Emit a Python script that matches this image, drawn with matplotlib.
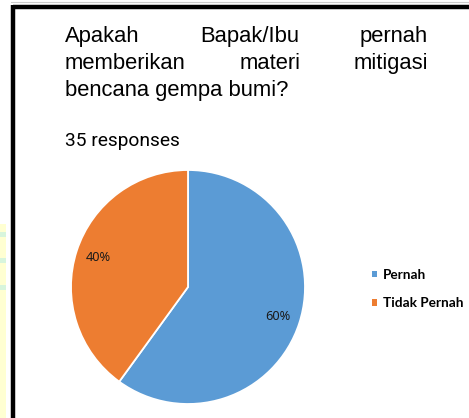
import matplotlib.pyplot as plt
from matplotlib.patches import Patch, Rectangle
from matplotlib.lines import Line2D

# Data
labels = ["Pernah", "Tidak Pernah"]
shares = [60, 40]
colors = ["#5B9BD5", "#ED7D31"]
title_lines = [
    ["Apakah", "Bapak/Ibu", "pernah"],
    ["memberikan", "materi", "mitigasi"],
    ["bencana gempa bumi?"],
]
subtitle = "35 responses"

W, H = 469, 418


def main():
    fig = plt.figure(figsize=(W / 100, H / 100), dpi=100)
    fig.patch.set_facecolor("white")

    # overlay axes in pixel coordinates for the frame and title
    bg = fig.add_axes([0, 0, 1, 1])
    bg.set_xlim(0, W)
    bg.set_ylim(H, 0)
    bg.axis("off")

    # left strip of the slide behind the card
    bg.add_patch(Rectangle((0, 224), 6, H - 224, color="#FFFFD2", lw=0))
    for yy in (232, 258, 285):
        bg.add_patch(Rectangle((0, yy), 6, 5, color="#D8F5DC", lw=0))

    # card border (black top/left, grey line above)
    bg.add_line(Line2D([11, W], [2, 2], color="#CCCCCC", lw=0.8))
    bg.add_line(Line2D([13, W], [6.5, 6.5], color="black", lw=3.2,
                       solid_capstyle="butt"))
    bg.add_line(Line2D([13, 13], [5, H], color="black", lw=3.2,
                       solid_capstyle="butt"))

    # justified title text
    tfont = dict(family="Liberation Sans", fontsize=15.8, color="black")
    baselines = [42, 69, 96]
    left_x, right_x = 65, 428
    renderer = fig.canvas.get_renderer()
    for words, yb in zip(title_lines, baselines):
        if len(words) == 1:
            bg.text(left_x, yb, words[0], ha="left", va="baseline", **tfont)
            continue
        items = [bg.text(0, yb, w, ha="left", va="baseline", **tfont)
                 for w in words]
        widths = [t.get_window_extent(renderer).width for t in items]
        gap = (right_x - left_x - sum(widths)) / (len(words) - 1)
        x = left_x
        for t, wd in zip(items, widths):
            t.set_x(x)
            x += wd + gap

    bg.text(65, 146, subtitle, ha="left", va="baseline",
            family="Roboto", fontsize=13.8, color="black")

    # pie
    cx, cy, r = 188, 287, 117
    ax = fig.add_axes([(cx - r) / W, (H - cy - r) / H, 2 * r / W, 2 * r / H])
    ax.pie(shares, colors=colors, startangle=90, counterclock=False,
           autopct="%d%%", pctdistance=0.81, radius=1,
           wedgeprops=dict(edgecolor="white", linewidth=1.3),
           textprops=dict(family="Noto Sans", fontsize=9.2, color="#1a1a1a"))
    ax.set_xlim(-1, 1)
    ax.set_ylim(-1, 1)
    ax.set_aspect("equal")

    handles = [Patch(facecolor=c, edgecolor="none") for c in colors]
    fig.legend(handles, labels, loc="upper left",
               bbox_to_anchor=(369 / W, 1 - 266 / H), frameon=False,
               prop=dict(family="Lato", weight="bold", size=9.8),
               handlelength=0.38, handleheight=0.38, handletextpad=0.45,
               labelspacing=1.2, borderaxespad=0, borderpad=0.2)

    fig.savefig("out.png", dpi=100)


if __name__ == "__main__":
    main()
